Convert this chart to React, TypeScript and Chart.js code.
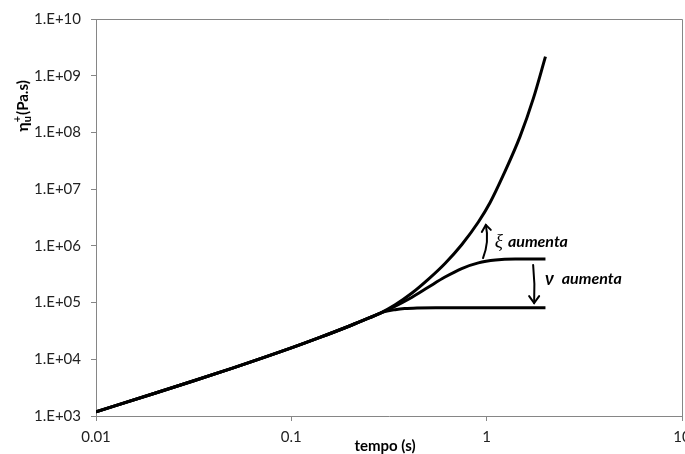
import React, { useEffect, useRef } from "react";
import { Chart, registerables } from "chart.js";

Chart.register(...registerables);

// ---- data ----
const xTicks = [0.01, 0.1, 1, 10];
const xTickLabels = ["0.01", "0.1", "1", "10"];
const yTicks = [1e3, 1e4, 1e5, 1e6, 1e7, 1e8, 1e9, 1e10];
const yTickLabels = ["1.E+03", "1.E+04", "1.E+05", "1.E+06", "1.E+07", "1.E+08", "1.E+09", "1.E+10"];

// common (shared) branch
const tempoComum = [0.01, 0.02, 0.03, 0.05, 0.1, 0.14, 0.2, 0.25, 0.284];
const etaComum = [1190, 2520, 3930, 6970, 15850, 24270, 39000, 53500, 64600];

// upper branch (xi increases)
const tempoSup = [0.34, 0.413, 0.502, 0.612, 0.745, 0.907, 1.04, 1.218, 1.483, 1.734, 2.0];
const etaSup = [91200, 145900, 257000, 489800, 1047000, 2630000, 5750000, 17800000, 85100000, 398000000, 2170000000];

// middle branch
const tempoMeio = [0.32, 0.413, 0.502, 0.612, 0.745, 0.907, 1.11, 1.4, 2.0];
const etaMeio = [77600, 123000, 186200, 281800, 398100, 501200, 562300, 586100, 588800];

// lower branch
const tempoInf = [0.3, 0.34, 0.38, 0.44, 0.55, 2.0];
const etaInf = [69200, 75000, 78500, 80500, 81300, 81300];

// annotation anchors (data units)
const setaXiTempo = [0.958, 0.99];
const setaXiEta = [6.1e5, 2.34e6];
const textoXi = { t: 1.1, eta: 1.19e6 };
const setaNuTempo = [1.75, 1.75];
const setaNuEta = [4.6e5, 9.8e4];
const textoNu = { t: 1.99, eta: 2.6e5 };

const AXIS_GRAY = "#868686";
const LABEL_COLOR = "#222";

function pontos(t: number[], e: number[]) {
  const a = tempoComum.map((x, i) => ({ x, y: etaComum[i] }));
  return a.concat(t.map((x, i) => ({ x, y: e[i] })));
}

const decoPlugin = {
  id: "deco",
  afterDraw(chart: any) {
    const { ctx, chartArea, scales } = chart;
    const sx = scales.x;
    const sy = scales.y;
    ctx.save();
    // box border (top/right)
    ctx.strokeStyle = AXIS_GRAY;
    ctx.lineWidth = 1;
    ctx.beginPath();
    ctx.moveTo(chartArea.left, chartArea.top + 0.5);
    ctx.lineTo(chartArea.right + 0.5, chartArea.top + 0.5);
    ctx.lineTo(chartArea.right + 0.5, chartArea.bottom);
    ctx.stroke();

    // arrows
    ctx.strokeStyle = "#000";
    ctx.lineWidth = 2;
    ctx.lineCap = "round";
    // xi arrow (slightly curved, pointing up)
    const x0 = sx.getPixelForValue(setaXiTempo[0]);
    const y0 = sy.getPixelForValue(setaXiEta[0]);
    const x1 = sx.getPixelForValue(setaXiTempo[1]);
    const y1 = sy.getPixelForValue(setaXiEta[1]);
    ctx.beginPath();
    ctx.moveTo(x0, y0);
    ctx.quadraticCurveTo((x0 + x1) / 2 + 5, (y0 + y1) / 2, x1, y1);
    ctx.stroke();
    ctx.beginPath();
    ctx.moveTo(x1 - 4, y1 + 7);
    ctx.lineTo(x1, y1);
    ctx.lineTo(x1 + 5, y1 + 5);
    ctx.stroke();

    // nu arrow (straight, pointing down)
    const nx = sx.getPixelForValue(setaNuTempo[0]);
    const ny0 = sy.getPixelForValue(setaNuEta[0]);
    const ny1 = sy.getPixelForValue(setaNuEta[1]);
    ctx.beginPath();
    ctx.moveTo(nx - 1, ny0);
    ctx.quadraticCurveTo(nx + 1, (ny0 + ny1) / 2, nx, ny1);
    ctx.stroke();
    ctx.beginPath();
    ctx.moveTo(nx - 5, ny1 - 7);
    ctx.lineTo(nx, ny1);
    ctx.lineTo(nx + 5, ny1 - 7);
    ctx.stroke();

    // texts
    ctx.fillStyle = "#000";
    ctx.textBaseline = "middle";
    ctx.textAlign = "left";
    let tx = sx.getPixelForValue(textoXi.t);
    let ty = sy.getPixelForValue(textoXi.eta);
    ctx.font = 'italic 19px "Liberation Serif"';
    ctx.fillText("ξ", tx, ty);
    const wXi = ctx.measureText("ξ").width;
    ctx.font = 'italic bold 16px Lato';
    ctx.fillText("aumenta", tx + wXi + 5, ty);

    tx = sx.getPixelForValue(textoNu.t);
    ty = sy.getPixelForValue(textoNu.eta);
    ctx.font = 'italic bold 18px Lato';
    ctx.fillText("ν", tx, ty);
    const wNu = ctx.measureText("ν").width;
    ctx.font = 'italic bold 16px Lato';
    ctx.fillText("aumenta", tx + wNu + 8, ty);

    // x axis title
    ctx.font = 'bold 15px Lato';
    ctx.textAlign = "center";
    ctx.textBaseline = "middle";
    ctx.fillStyle = "#000";
    ctx.fillText("tempo (s)", (chartArea.left + chartArea.right) / 2 - 4, 446);

    // y axis title (rotated)
    ctx.save();
    ctx.translate(23, 106);
    ctx.rotate(-Math.PI / 2);
    ctx.textAlign = "left";
    ctx.textBaseline = "middle";
    const partes: [string, string, number][] = [
      ["η", "bold 16px Lato", 0],
      ["u", "bold 11px Lato", 4],
      ["+", "bold 11px Lato", -6],
      ["(Pa.s)", "bold 15px Lato", 0],
    ];
    const ws: number[] = [];
    partes.forEach(([s, f]) => {
      ctx.font = f;
      ws.push(ctx.measureText(s).width);
    });
    const total = ws[0] + Math.max(ws[1], ws[2]) + 1 + ws[3];
    let px = -total / 2;
    ctx.font = partes[0][1];
    ctx.fillText(partes[0][0], px, 0);
    px += ws[0];
    ctx.font = partes[1][1];
    ctx.fillText(partes[1][0], px, partes[1][2]);
    ctx.font = partes[2][1];
    ctx.fillText(partes[2][0], px, partes[2][2]);
    px += Math.max(ws[1], ws[2]) + 1;
    ctx.font = partes[3][1];
    ctx.fillText(partes[3][0], px, 0);
    ctx.restore();

    ctx.restore();
  },
};

export default function App() {
  const ref = useRef<HTMLCanvasElement | null>(null);
  useEffect(() => {
    if (!ref.current) return;
    const estilo = { borderColor: "#000", borderWidth: 3, pointRadius: 0, showLine: true, cubicInterpolationMode: "monotone" as const, fill: false };
    const chart = new Chart(ref.current, {
      type: "scatter",
      data: {
        datasets: [
          { label: "sup", data: pontos(tempoSup, etaSup), ...estilo },
          { label: "meio", data: pontos(tempoMeio, etaMeio), ...estilo },
          { label: "inf", data: pontos(tempoInf, etaInf), ...estilo },
        ],
      },
      options: {
        animation: false,
        responsive: false,
        devicePixelRatio: 1,
        layout: { padding: { left: 0, top: 19, right: 3, bottom: 0 } },
        plugins: { legend: { display: false }, tooltip: { enabled: false }, title: { display: false } },
        scales: {
          x: {
            type: "logarithmic",
            min: 0.01,
            max: 10,
            afterBuildTicks: (s: any) => { s.ticks = xTicks.map((v) => ({ value: v })); },
            afterFit: (s: any) => { s.height = 38; s.paddingLeft = 0; s.paddingRight = 0; },
            ticks: {
              autoSkip: false,
              maxRotation: 0,
              padding: 7,
              color: LABEL_COLOR,
              font: { family: "Lato", size: 15 },
              callback: (_v: any, i: number) => xTickLabels[i],
            },
            grid: { drawOnChartArea: false, drawTicks: true, tickLength: 5, color: AXIS_GRAY },
            border: { color: AXIS_GRAY, width: 1 },
          },
          y: {
            type: "logarithmic",
            min: 1e3,
            max: 1e10,
            afterBuildTicks: (s: any) => { s.ticks = yTicks.map((v) => ({ value: v })); },
            afterFit: (s: any) => { s.width = 96; s.paddingTop = 0; s.paddingBottom = 0; },
            ticks: {
              autoSkip: false,
              padding: 10,
              color: LABEL_COLOR,
              font: { family: "Lato", size: 15 },
              callback: (_v: any, i: number) => yTickLabels[i],
            },
            grid: { drawOnChartArea: false, drawTicks: true, tickLength: 5, color: AXIS_GRAY },
            border: { color: AXIS_GRAY, width: 1 },
          },
        },
      },
      plugins: [decoPlugin],
    } as any);
    return () => chart.destroy();
  }, []);
  return (
    <div style={{ position: "absolute", left: 0, top: 0, width: 685, height: 454, background: "#fff" }}>
      <canvas ref={ref} width={685} height={454} style={{ display: "block" }} />
    </div>
  );
}
